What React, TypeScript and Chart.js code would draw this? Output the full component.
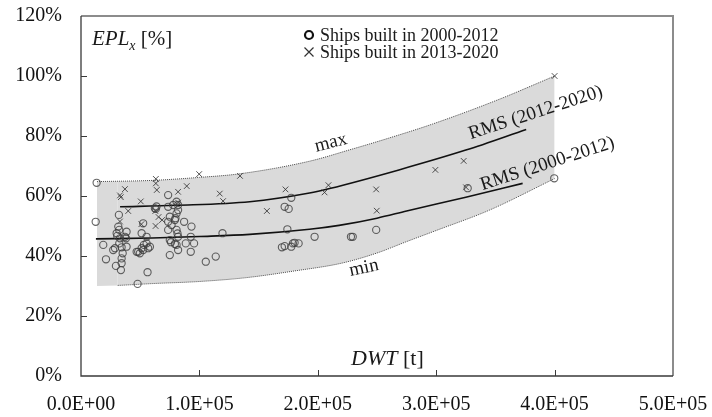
import React, { useEffect, useRef } from 'react';
import { Chart, registerables } from 'chart.js';

Chart.register(...registerables);

const SERIF = "'Liberation Serif', 'Times New Roman', serif";

// Axis ticks
const xTicks = [0, 100000, 200000, 300000, 400000, 500000];
const xTickLabels = ['0.0E+00', '1.0E+05', '2.0E+05', '3.0E+05', '4.0E+05', '5.0E+05'];
const yTicks = [0, 20, 40, 60, 80, 100, 120];
const yTickLabels = ['0%', '20%', '40%', '60%', '80%', '100%', '120%'];

// Ships: [DWT in thousand tonnes, EPL in %]
const ships2000to2012: [number, number][] = [
  [13.2, 64.4], [12.4, 51.4], [18.8, 43.7], [21.1, 38.9], [27.2, 42], [28.7, 42.6],
  [29.5, 36.7], [33.7, 35.3], [32, 53.7], [31.5, 49.8], [32.3, 48.7], [30.6, 46.7],
  [32.9, 45.9], [32.3, 44.2], [34.3, 42.9], [35.2, 40.9], [34.3, 39.2], [34.3, 37.6],
  [30.1, 47.6], [38.5, 48.1], [38, 45.9], [37.1, 46.4], [38.5, 43.1], [47, 41.4],
  [47.8, 30.7], [48.3, 41.4], [49.7, 40.9], [51.2, 42.6], [52.5, 42], [53.1, 43.7],
  [55.4, 44.2], [56.7, 42.6], [58.2, 43.1], [51.2, 47.6], [55.4, 46.4], [56.2, 34.6],
  [52.5, 50.9], [62.4, 55.9], [63.2, 55.7], [63.8, 56.5], [73.6, 56.4], [73.6, 60.3],
  [75, 53.1], [73.6, 51.4], [76.5, 50.3], [73.6, 48.7], [75, 45.3], [76, 44.6],
  [79.3, 44], [75, 40.3], [79.3, 52], [79.8, 52.6], [80.7, 48.7], [81.5, 47.5],
  [82, 46.4], [80.7, 43.7], [82, 42], [77.8, 57], [82, 57], [80.7, 58.1],
  [80.7, 54.2], [82, 55.3], [87.1, 51.4], [88.5, 44.2], [93.3, 49.8], [92.7, 46.4],
  [95.5, 44.2], [92.7, 41.4], [105.4, 38.1], [113.8, 39.8], [119.5, 47.6],
  [177.6, 59.4], [172, 56.4], [175.4, 55.7], [174.3, 48.9], [197.3, 46.4], [169.7, 42.9],
  [172, 43.3], [177.6, 43.1], [179, 44.2], [180.4, 44.4], [183.8, 44.2], [228, 46.4],
  [229.5, 46.4], [249.3, 48.7], [326.6, 62.6], [399.7, 65.9],
];

const ships2013to2020: [number, number][] = [
  [32.9, 60.2], [33.6, 59.6], [37.1, 62.3], [39.9, 55], [32.9, 51.5], [50.5, 58.2],
  [51, 50.6], [63.2, 65.7], [63.2, 64.2], [64, 62], [62.8, 55], [65.5, 53],
  [68.5, 52], [63, 50], [82, 61.4], [89.3, 63.3], [99.8, 67.3], [82, 57.8],
  [117.2, 60.8], [120, 58.3], [134.3, 66.7], [157, 55], [172.7, 62.2], [205.7, 61.2],
  [209, 63.6], [249.3, 62.2], [249.8, 55.1], [299.3, 68.7], [323.2, 71.7], [325.2, 62.9],
  [400, 100],
];

// Envelope and RMS trend curves: [DWT in thousand tonnes, EPL in %]
const maxCurve: [number, number][] = [
  [13.5, 64.8], [60, 65.2], [100, 66.2], [134, 67.4], [193, 71.6], [227, 75.4],
  [260, 79.3], [297, 84], [353, 92.2], [400, 100],
];
const minCurve: [number, number][] = [
  [13.5, 30], [31, 30.2], [60, 30.8], [100, 31.5], [140, 32.8], [180, 35],
  [220, 37.6], [250, 41], [275, 44.8], [300, 48.5], [345, 55.3], [400, 65.8],
];
const rms2000to2012: [number, number][] = [
  [12.6, 45.7], [60, 46], [100, 46.5], [142.5, 47.2], [193, 48.9], [218, 50.2],
  [250, 52.6], [275, 55], [325, 59.6], [373, 64.2],
];
const rms2012to2020: [number, number][] = [
  [33, 56.4], [80, 56.9], [142.5, 58.1], [193, 61], [210, 62.5], [268.5, 68.7],
  [325, 75.3], [376, 82.2],
];

// Curve captions anchored in data space (DWT t, EPL %), angle in degrees
const curveLabels = [
  { text: 'max', x: 211000, y: 77.7, angle: -14 },
  { text: 'min', x: 239000, y: 36, angle: -12 },
  { text: 'RMS (2012-2020)', x: 384000, y: 87.7, angle: -18 },
  { text: 'RMS (2000-2012)', x: 394000, y: 70.7, angle: -18 },
];

const toPoints = (rows: [number, number][]) => rows.map(([k, v]) => ({ x: k * 1000, y: v }));

type Part = { t: string; font: string; dy?: number };

function drawParts(ctx: CanvasRenderingContext2D, parts: Part[], x: number, y: number) {
  let cx = x;
  for (const p of parts) {
    ctx.font = p.font;
    ctx.fillText(p.t, cx, y + (p.dy || 0));
    cx += ctx.measureText(p.t).width;
  }
}

const decorPlugin = {
  id: 'decor',
  afterDatasetsDraw(chart: any) {
    const { ctx, chartArea: a } = chart;
    const xs = chart.scales.x;
    const ys = chart.scales.y;
    ctx.save();

    // frame: light top/right, dark left/bottom
    ctx.strokeStyle = '#8c8c8c';
    ctx.lineWidth = 2;
    ctx.beginPath();
    ctx.moveTo(a.left, a.top);
    ctx.lineTo(a.right, a.top);
    ctx.lineTo(a.right, a.bottom);
    ctx.stroke();
    ctx.strokeStyle = '#3a3a3a';
    ctx.lineWidth = 1.3;
    ctx.beginPath();
    ctx.moveTo(a.left, a.top);
    ctx.lineTo(a.left, a.bottom);
    ctx.lineTo(a.right, a.bottom);
    ctx.stroke();

    // inward tick marks
    ctx.lineWidth = 1;
    ctx.strokeStyle = '#3a3a3a';
    ctx.beginPath();
    xTicks.slice(1, -1).forEach((v) => {
      const px = Math.round(xs.getPixelForValue(v)) + 0.5;
      ctx.moveTo(px, a.bottom);
      ctx.lineTo(px, a.bottom - 6);
    });
    yTicks.slice(1, -1).forEach((v) => {
      const py = Math.round(ys.getPixelForValue(v)) + 0.5;
      ctx.moveTo(a.left, py);
      ctx.lineTo(a.left + 6, py);
    });
    ctx.stroke();

    // curve captions
    ctx.fillStyle = '#1a1a1a';
    ctx.textAlign = 'center';
    ctx.textBaseline = 'middle';
    ctx.font = `19px ${SERIF}`;
    curveLabels.forEach((l) => {
      ctx.save();
      ctx.translate(xs.getPixelForValue(l.x), ys.getPixelForValue(l.y));
      ctx.rotate((l.angle * Math.PI) / 180);
      ctx.fillText(l.text, 0, 0);
      ctx.restore();
    });

    // axis titles inside the plot
    ctx.textAlign = 'left';
    ctx.textBaseline = 'alphabetic';
    drawParts(ctx, [
      { t: 'EPL', font: `italic 21px ${SERIF}` },
      { t: 'x', font: `italic 14px ${SERIF}`, dy: 5 },
      { t: ' [%]', font: `21px ${SERIF}` },
    ], a.left + 11, a.top + 29);
    drawParts(ctx, [
      { t: 'DWT', font: `italic 22px ${SERIF}` },
      { t: ' [t]', font: `22px ${SERIF}` },
    ], a.left + 270, a.bottom - 11);

    // legend
    const lx = a.left + 228;
    const row1 = a.top + 19;
    const row2 = a.top + 36;
    ctx.strokeStyle = '#111';
    ctx.lineWidth = 2.2;
    ctx.beginPath();
    ctx.arc(lx, row1, 4, 0, Math.PI * 2);
    ctx.stroke();
    ctx.lineWidth = 1.2;
    ctx.strokeStyle = '#333';
    ctx.beginPath();
    ctx.moveTo(lx - 4.5, row2 - 4.5);
    ctx.lineTo(lx + 4.5, row2 + 4.5);
    ctx.moveTo(lx + 4.5, row2 - 4.5);
    ctx.lineTo(lx - 4.5, row2 + 4.5);
    ctx.stroke();
    ctx.fillStyle = '#1a1a1a';
    ctx.textBaseline = 'middle';
    ctx.font = `18px ${SERIF}`;
    ctx.fillText('Ships built in 2000-2012', lx + 11, row1 + 1);
    ctx.fillText('Ships built in 2013-2020', lx + 11, row2 + 1);

    ctx.restore();
  },
};

export default function App() {
  const canvasRef = useRef<HTMLCanvasElement | null>(null);

  useEffect(() => {
    const canvas = canvasRef.current;
    if (!canvas) return;
    const edgeColor = '#4a4a4a';
    const chart = new Chart(canvas, {
      type: 'scatter',
      data: {
        datasets: [
          {
            label: 'Ships built in 2000-2012',
            data: toPoints(ships2000to2012),
            pointStyle: 'circle',
            pointRadius: 3.6,
            borderWidth: 1.1,
            borderColor: 'rgba(60,60,60,0.8)',
            backgroundColor: 'rgba(0,0,0,0)',
          },
          {
            label: 'Ships built in 2013-2020',
            data: toPoints(ships2013to2020),
            pointStyle: 'crossRot',
            pointRadius: 4,
            borderWidth: 1,
            borderColor: 'rgba(50,50,50,0.85)',
          },
          {
            label: 'RMS (2012-2020)',
            data: toPoints(rms2012to2020),
            showLine: true,
            pointRadius: 0,
            borderColor: '#111',
            borderWidth: 1.6,
            cubicInterpolationMode: 'monotone',
          },
          {
            label: 'RMS (2000-2012)',
            data: toPoints(rms2000to2012),
            showLine: true,
            pointRadius: 0,
            borderColor: '#111',
            borderWidth: 1.6,
            cubicInterpolationMode: 'monotone',
          },
          {
            label: 'max',
            data: toPoints(maxCurve),
            showLine: true,
            pointRadius: 0,
            borderColor: edgeColor,
            borderWidth: 1,
            borderDash: [1, 1],
            cubicInterpolationMode: 'monotone',
            fill: '+1',
            backgroundColor: '#dadada',
          },
          {
            label: 'min',
            data: toPoints(minCurve),
            showLine: true,
            pointRadius: 0,
            borderColor: edgeColor,
            borderWidth: 1,
            borderDash: [1, 1],
            cubicInterpolationMode: 'monotone',
            segment: {
              borderColor: (c: any) => (c.p0DataIndex === 0 ? 'rgba(0,0,0,0)' : edgeColor),
            },
          },
        ],
      },
      options: {
        animation: false,
        responsive: false,
        events: [],
        layout: { padding: { left: 0, top: 16, right: 39, bottom: 0 } },
        plugins: {
          legend: { display: false },
          tooltip: { enabled: false },
          filler: { drawTime: 'beforeDatasetsDraw' },
        },
        scales: {
          x: {
            type: 'linear',
            min: 0,
            max: 500000,
            grid: { display: false, drawTicks: false },
            border: { display: false },
            afterBuildTicks: (s: any) => {
              s.ticks = xTicks.map((v) => ({ value: v }));
            },
            afterFit: (s: any) => {
              s.height = 41;
              s.paddingLeft = 0;
              s.paddingRight = 0;
            },
            ticks: {
              padding: 17,
              maxRotation: 0,
              autoSkip: false,
              color: '#111',
              font: { family: SERIF, size: 20 },
              callback: (v: any) => xTickLabels[xTicks.indexOf(Number(v))],
            },
          },
          y: {
            type: 'linear',
            min: 0,
            max: 120,
            grid: { display: false, drawTicks: false },
            border: { display: false },
            afterBuildTicks: (s: any) => {
              s.ticks = yTicks.map((v) => ({ value: v }));
            },
            afterFit: (s: any) => {
              s.width = 81;
              s.paddingTop = 0;
              s.paddingBottom = 0;
            },
            ticks: {
              padding: 19,
              autoSkip: false,
              color: '#111',
              font: { family: SERIF, size: 20 },
              callback: (v: any) => yTickLabels[yTicks.indexOf(Number(v))],
            },
          },
        },
      },
      plugins: [decorPlugin],
    } as any);
    return () => chart.destroy();
  }, []);

  return (
    <div style={{ position: 'absolute', left: 0, top: 0, width: 712, height: 417, background: '#fff' }}>
      <canvas ref={canvasRef} width={712} height={417} style={{ display: 'block' }} />
    </div>
  );
}
